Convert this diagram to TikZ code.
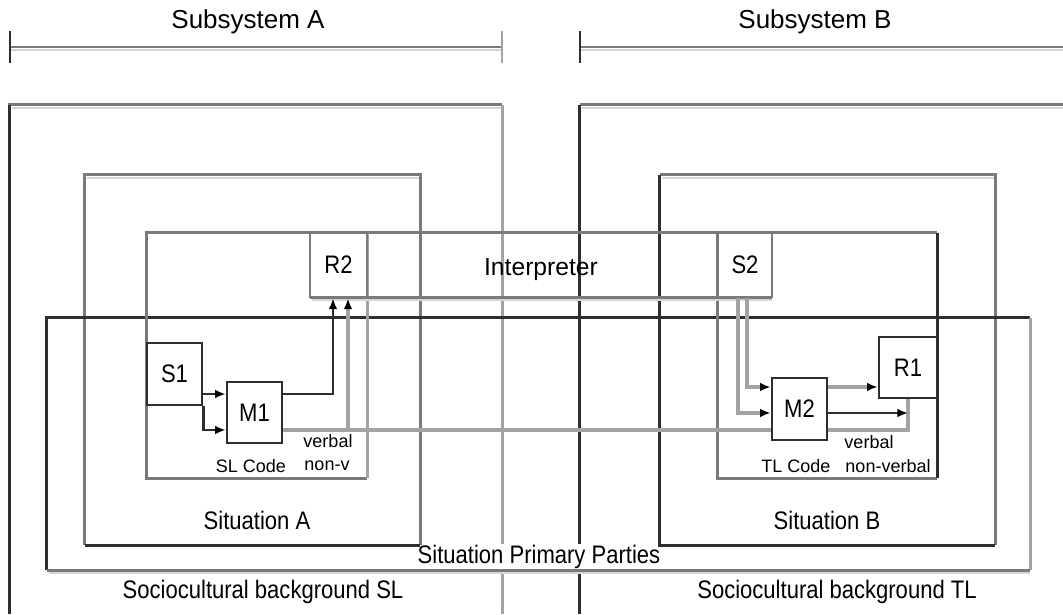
\documentclass[tikz,border=0pt]{standalone}
\usepackage{fontspec}
\setmainfont{Liberation Sans}[FakeStretch=0.87]
\newfontfamily\smallfont{Liberation Sans}
\newfontfamily\plainfont{Liberation Sans}
\usetikzlibrary{arrows.meta,fit}
\begin{document}
\begin{tikzpicture}[x=0.75pt,y=-0.75pt,
  big/.style={font=\fontsize{19}{22}\selectfont, inner sep=1pt},
  bigA/.style={font=\plainfont\fontsize{19.5}{22}\selectfont, inner sep=1pt},
  bigB/.style={font=\plainfont\fontsize{18.5}{22}\selectfont, inner sep=1pt},
  small/.style={font=\smallfont\fontsize{13.5}{15}\selectfont, inner sep=1pt},
  gl/.style={draw=black!52, line width=2.1pt},
  dl/.style={draw=black!82, line width=1.9pt},
  ll/.style={draw=black!36, line width=2pt},
  sh/.style={draw=black!16, line width=1.8pt},
  tip/.style={-{Latex[length=8pt,width=6.5pt,color=black]}},
  area/.style={inner sep=0pt},
  dbox/.style={draw=black!82, line width=1.9pt, inner sep=0pt, fill=white},
  gbox/.style={draw=black!52, line width=2.1pt, inner sep=0pt},
]
\useasboundingbox (0,0) rectangle (1063,614);
\fill[white] (0,0) rectangle (1063,614);

% ---------- subsystem brackets ----------
\node[bigA] (subA) at (248,22) {Subsystem A};
\node[bigA] (subB) at (815,22) {Subsystem B};
\draw[sh] (10,50) -- (502,50);
\draw[gl] (10,47) -- (502,47);
\draw[dl] (10,31) -- (10,63);
\draw[ll] (502,31) -- (502,63);
\draw[sh] (580,50) -- (1063,50);
\draw[gl] (580,47) -- (1063,47);
\draw[dl] (580,31) -- (580,63);

% ---------- sociocultural backgrounds ----------
\node[area, fit={(10,105)(502,614)}] (bgA) {};
\node[area, fit={(580,105)(1063,614)}] (bgB) {};
\draw[sh] (12,108) -- (502,108);
\draw[gl] (bgA.south west) |- (bgA.north east);
\draw[dl] (bgA.south west) -- (bgA.north west);
\draw[ll] (bgA.north east) -- (bgA.south east);
\draw[sh] (582,108) -- (1063,108);
\draw[gl] (bgB.north west) -- (bgB.north east);
\draw[dl] (bgB.north west) -- (bgB.south west);
\node[big] (sclA) at (263,592) {Sociocultural background SL};
\node[big] (sclB) at (837,592) {Sociocultural background TL};

% ---------- primary parties label (covers the background lines) ----------
\node[big, fill=white] (ppl) at (539,557) {Situation Primary Parties};

% ---------- situations ----------
\node[area, fit={(85,175)(420,545)}] (sitA) {};
\draw[sh] (87,178) -- (420,178);
\draw[gl] (sitA.south west) |- (sitA.north east) -- (sitA.south east);
\draw[dl] (sitA.south west) -- (sitA.south east);
\node[big] (sitAl) at (257,520) {Situation A};

\node[area, fit={(660,175)(995,545)}] (sitB) {};
\draw[sh] (662,178) -- (995,178);
\draw[gl] (sitB.north west) -- (sitB.north east) -- (sitB.south east);
\draw[dl] (sitB.north west) -- (sitB.south west) -- (sitB.south east);
\node[big] (sitBl) at (827,520) {Situation B};

% ---------- primary parties box ----------
\node[area, fit={(47,318)(1030,570)}] (pp) {};
\draw[dl] (pp.south west) |- (pp.north east);
\draw[ll] (pp.north east) -- (pp.south east);
\draw[sh] (49,573) -- (1030,573);
\draw[gl] (pp.south west) -- (pp.south east);

% ---------- code boxes and interpreter ----------
\node[area, fit={(147,233)(367,478)}] (codeA) {};
\node[area, fit={(718,233)(937,478)}] (codeB) {};
\node[area, fit={(310,233)(772,297)}] (interp) {};
\draw[gl] (codeA.south east) -- (codeA.south west) |- (codeB.north east);
\draw[ll] (codeA.north east) -- (codeA.south east);
\draw[gl] (codeB.north west) |- (codeB.south east);
\draw[dl] (codeB.north east) -- (codeB.south east);
\draw[sh] (312,300) -- (772,300);
\draw[gl] (interp.south west) -- (interp.south east);
\node[bigB] (interpl) at (541,270) {Interpreter};

% ---------- participants ----------
\node[gbox, fit={(310,233)(367,297)}, label={[big]center:R2}] (R2) {};
\node[gbox, fit={(718,233)(772,297)}, label={[big]center:S2}] (S2) {};
\node[dbox, fit={(147,343)(202,405)}, label={[big]center:S1}] (S1) {};
\node[dbox, fit={(227,382)(282,443)}, label={[big]center:M1}] (M1) {};
\node[dbox, fit={(772,378)(827,440)}, label={[big]center:M2}] (M2) {};
\node[dbox, fit={(879,337)(937,398)}, label={[big]center:R1}] (R1) {};

% ---------- connectors, side A ----------
\draw[dl,tip] (S1.east |- 0,394) -- (M1.west |- 0,394);
\draw[dl,tip] (S1.south east) |- (M1.west |- 0,430);
\draw[dl,tip] (M1.east |- 0,394) -| (R2.south -| 333,0);
\coordinate (nvA) at (348,430);
\draw[ll, line width=2.4pt] (M1.east |- 0,430) -- (M2.west |- 0,430);
\draw[ll, line width=2.4pt, tip] (nvA) -- (R2.south -| nvA);

% ---------- connectors, side B ----------
\draw[ll, line width=2.4pt, tip] (S2.south -| 738,0) |- (M2.west |- 0,413);
\draw[ll, line width=2.4pt, tip] (S2.south -| 747,0) |- (M2.west |- 0,387);
\draw[ll, line width=2.6pt, tip] (M2.east |- 0,387) -- (R1.west |- 0,387);
\draw[ll, line width=2.4pt] (M2.east |- 0,430) -| (R1.south);
\draw[dl,tip] (M2.east |- 0,413) -- (R1.south |- 0,413);

% ---------- code labels ----------
\node[small] (vA) at (328,441) {verbal};
\node[small] (nvAl) at (327,466) {non-v};
\node[small] (slc) at (251,466) {SL Code};
\node[small] (vB) at (869,442) {verbal};
\node[small] (nvBl) at (888,466) {non-verbal};
\node[small] (tlc) at (796,466) {TL Code};
\end{tikzpicture}
\end{document}
